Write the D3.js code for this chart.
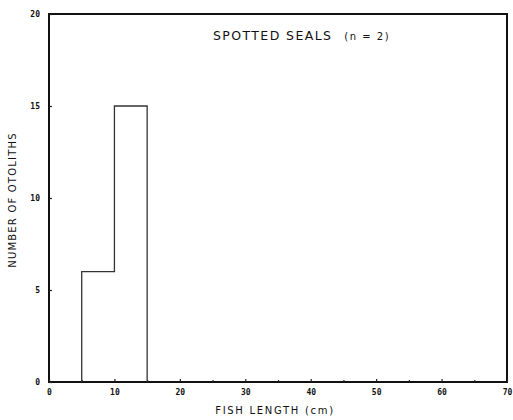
<!DOCTYPE html>
<html><head><meta charset="utf-8">
<script src="https://cdn.jsdelivr.net/npm/d3@7"></script>
<style>body{margin:0;background:#fff}svg{display:block}</style>
</head><body>
<script>
const binStarts = [5, 10];
const binEnds = [10, 15];
const counts = [6, 15];
const xTicks = [0, 10, 20, 30, 40, 50, 60, 70];
const yTicks = [0, 5, 10, 15, 20];
const xMinor = [5, 15, 25, 35, 45, 55, 65];

const W = 513, H = 420;
const m = {left: 49, right: 6, top: 14, bottom: 38};
const svg = d3.select("body").append("svg").attr("width", W).attr("height", H);
const x = d3.scaleLinear().domain([0, 70]).range([m.left, W - m.right]);
const y = d3.scaleLinear().domain([0, 20]).range([H - m.bottom, m.top]);

// frame
svg.append("rect").attr("x", x(0)).attr("y", y(20)).attr("width", x(70) - x(0)).attr("height", y(0) - y(20))
  .attr("fill", "none").attr("stroke", "#111").attr("stroke-width", 2);

// ticks
const tickFont = "'DejaVu Sans Mono', monospace";
const xa = svg.append("g").attr("transform", `translate(0,${y(0)})`)
  .call(d3.axisBottom(x).tickValues(xTicks).tickSize(-3).tickFormat(d3.format("d")));
const xm = svg.append("g").attr("transform", `translate(0,${y(0)})`)
  .call(d3.axisBottom(x).tickValues(xMinor).tickSize(-2).tickFormat(""));
const ya = svg.append("g").attr("transform", `translate(${x(0)},0)`)
  .call(d3.axisLeft(y).tickValues(yTicks).tickSize(-3).tickFormat(d3.format("d")));
[xa, xm, ya].forEach(g => { g.select(".domain").remove(); g.selectAll("line").attr("stroke", "#222").attr("stroke-width", 1.2); });
xa.selectAll("text").attr("font-family", tickFont).attr("font-weight", "bold").attr("font-size", 8).attr("fill", "#111").attr("dy", "0.9em").attr("y", 6);
ya.selectAll("text").attr("font-family", tickFont).attr("font-weight", "bold").attr("font-size", 8).attr("fill", "#111").attr("x", -9);

// histogram outline
const pts = [];
binStarts.forEach((s, i) => {
  if (i === 0) pts.push([s, 0]);
  pts.push([s, counts[i]]);
  pts.push([binEnds[i], counts[i]]);
});
pts.push([binEnds[binEnds.length - 1], 0]);
svg.append("path").attr("d", d3.line().x(d => x(d[0])).y(d => y(d[1]))(pts))
  .attr("fill", "none").attr("stroke", "#333").attr("stroke-width", 1.3);

// title
const t = svg.append("text").attr("x", 213).attr("y", 40).attr("font-family", "'DejaVu Sans', sans-serif")
  .attr("font-size", 12.5).attr("fill", "#111").attr("letter-spacing", 1.4);
t.append("tspan").text("SPOTTED SEALS");
t.append("tspan").attr("dx", 12).attr("font-size", 10).attr("letter-spacing", 1.5).text("(n = 2)");

// axis labels
svg.append("text").attr("x", 275).attr("y", 414).attr("text-anchor", "middle")
  .attr("font-family", "'DejaVu Sans', sans-serif").attr("font-size", 10).attr("letter-spacing", 1.7).attr("fill", "#111")
  .text("FISH LENGTH (cm)");
svg.append("text").attr("transform", `translate(16,${(y(0) + y(20)) / 2 + 2}) rotate(-90)`).attr("text-anchor", "middle")
  .attr("font-family", "'DejaVu Sans', sans-serif").attr("font-size", 10).attr("letter-spacing", 1.2).attr("fill", "#111")
  .text("NUMBER OF OTOLITHS");
</script>
</body></html>
